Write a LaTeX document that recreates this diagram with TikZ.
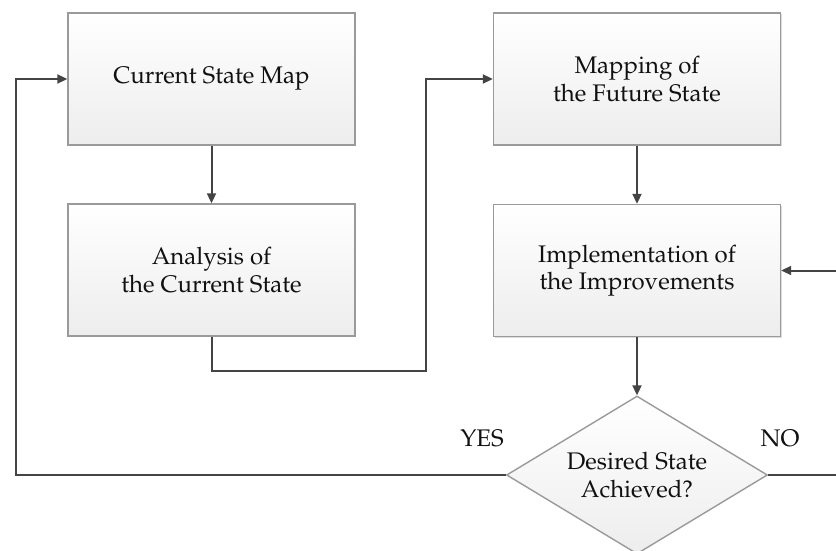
\documentclass[tikz,border=0pt]{standalone}
\usepackage[T1]{fontenc}
\usepackage{mathpazo}
\usetikzlibrary{shapes.geometric,arrows.meta,shadows}
\definecolor{edgegray}{HTML}{9A9A9A}
\definecolor{linegray}{HTML}{444444}
\definecolor{txt}{HTML}{111111}
\tikzset{
  procbox/.style={draw=edgegray, line width=1.4pt, top color=white, bottom color=gray!14,
    minimum width=287pt, minimum height=132pt, inner sep=0pt, align=center,
    font=\fontsize{24}{27.5}\selectfont, text=txt,
    drop shadow={shadow xshift=1.2pt, shadow yshift=-1.2pt, fill=gray!45, opacity=0.6}},
  decision/.style={diamond, draw=edgegray, line width=1.4pt, top color=white, bottom color=gray!14,
    minimum width=261pt, minimum height=158pt, aspect=1.65, inner sep=0pt, align=center,
    font=\fontsize{24}{27.5}\selectfont, text=txt},
  conn/.style={draw=linegray, line width=2pt, -{Triangle[length=10pt,width=9pt]}},
  plain/.style={draw=linegray, line width=2pt},
  lbl/.style={font=\fontsize{24}{27.5}\selectfont, text=txt, inner sep=0pt}
}
\begin{document}
\begin{tikzpicture}[x=1pt,y=-1pt]
\useasboundingbox (0,0) rectangle (836,551);
\node[procbox] (b1) at (211.5,79) {Current State Map};
\node[procbox] (b2) at (211.5,270) {Analysis of\\the Current State};
\node[procbox] (b3) at (637,79) {Mapping of\\the Future State};
\node[procbox] (b4) at (637,270.5) {Implementation of\\the Improvements};
\node[decision] (d) at (637,475) {Desired State\\Achieved?};
\node[lbl] (yes) at (482,438) {YES};
\node[lbl] (no) at (780,438) {NO};
\coordinate (L) at (16,475);
\coordinate (M) at (426,371);
\coordinate (R1) at (837,475);
\coordinate (R2) at (837,270.5);
\draw[conn] (b1) -- (b2);
\draw[conn] (b3) -- (b4);
\draw[conn] (b4) -- (d);
\draw[conn] (b2.south) |- (M) |- (b3.west);
\draw[conn] (d.west) -- (L) |- (b1.west);
\draw[plain] (d.east) -- (R1);
\draw[conn] (R2) -- (b4.east);
\end{tikzpicture}
\end{document}
